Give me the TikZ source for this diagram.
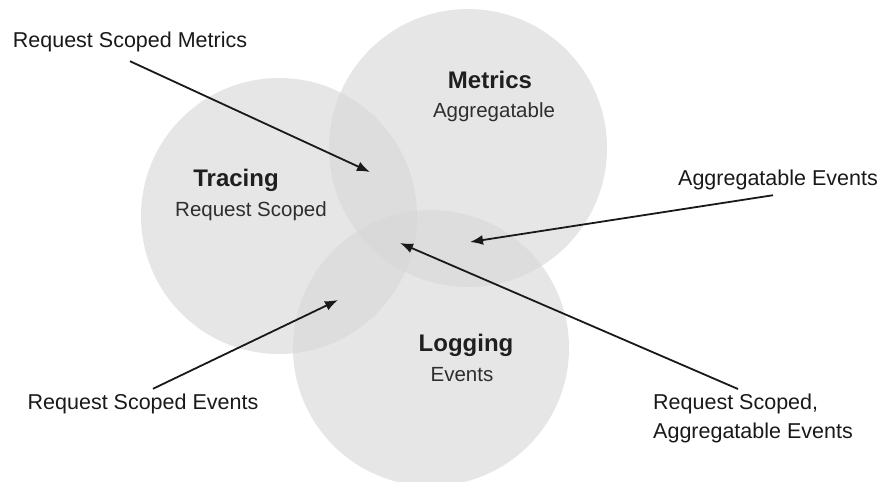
\documentclass[tikz,border=0pt]{standalone}
\usepackage{fontspec}
\setmainfont{Liberation Sans}
\usetikzlibrary{arrows.meta}
\begin{document}
\begin{tikzpicture}[x=1pt,y=-1pt,
  circ/.style={circle, fill=black!16, fill opacity=0.6, draw=none, inner sep=0},
  title/.style={font=\bfseries\fontsize{24}{28}\selectfont, inner sep=0, text=black!88},
  sub/.style={font=\fontsize{20.5}{24}\selectfont, inner sep=0, text=black!82},
  lab/.style={font=\fontsize{21.5}{29}\selectfont, inner sep=0, text=black!90, align=left},
  arr/.style={line width=1.8pt, -{Latex[length=13pt,width=10pt]}, draw=black!90}]
\useasboundingbox (0,0) rectangle (881,482);
% circles
\node[circ, minimum size=276pt] (tracingC) at (279,216) {};
\node[circ, minimum size=278pt] (metricsC) at (468,148) {};
\node[circ, minimum size=276pt] (loggingC) at (431,348) {};
% titles
\node[title] (tracing) at (236,180) {Tracing};
\node[sub] (tracingS) at (251,211) {Request Scoped};
\node[title] (metrics) at (490,80) {Metrics};
\node[sub] (metricsS) at (494,112) {Aggregatable};
\node[title] (logging) at (466,345) {Logging};
\node[sub] (loggingS) at (462,375) {Events};
% labels
\node[lab] (rsm) at (130,42) {Request Scoped Metrics};
\node[lab] (ae) at (778,180) {Aggregatable Events};
\node[lab] (rse) at (143,404) {Request Scoped Events};
\node[lab, anchor=north west] (rsae) at (653,394) {Request Scoped,\\Aggregatable Events};
% arrow tips
\coordinate (t1) at (370,172);
\coordinate (t2) at (470,242);
\coordinate (t3) at (400,243);
\coordinate (t4) at (338,300);
% arrows
\draw[arr] ([shift={(0,9)}]rsm.south) -- (t1);
\draw[arr] ([shift={(-5,5)}]ae.south) -- (t2);
\draw[arr] ([shift={(85,-5)}]rsae.north west) -- (t3);
\draw[arr] ([shift={(10,-5)}]rse.north) -- (t4);
\end{tikzpicture}
\end{document}
